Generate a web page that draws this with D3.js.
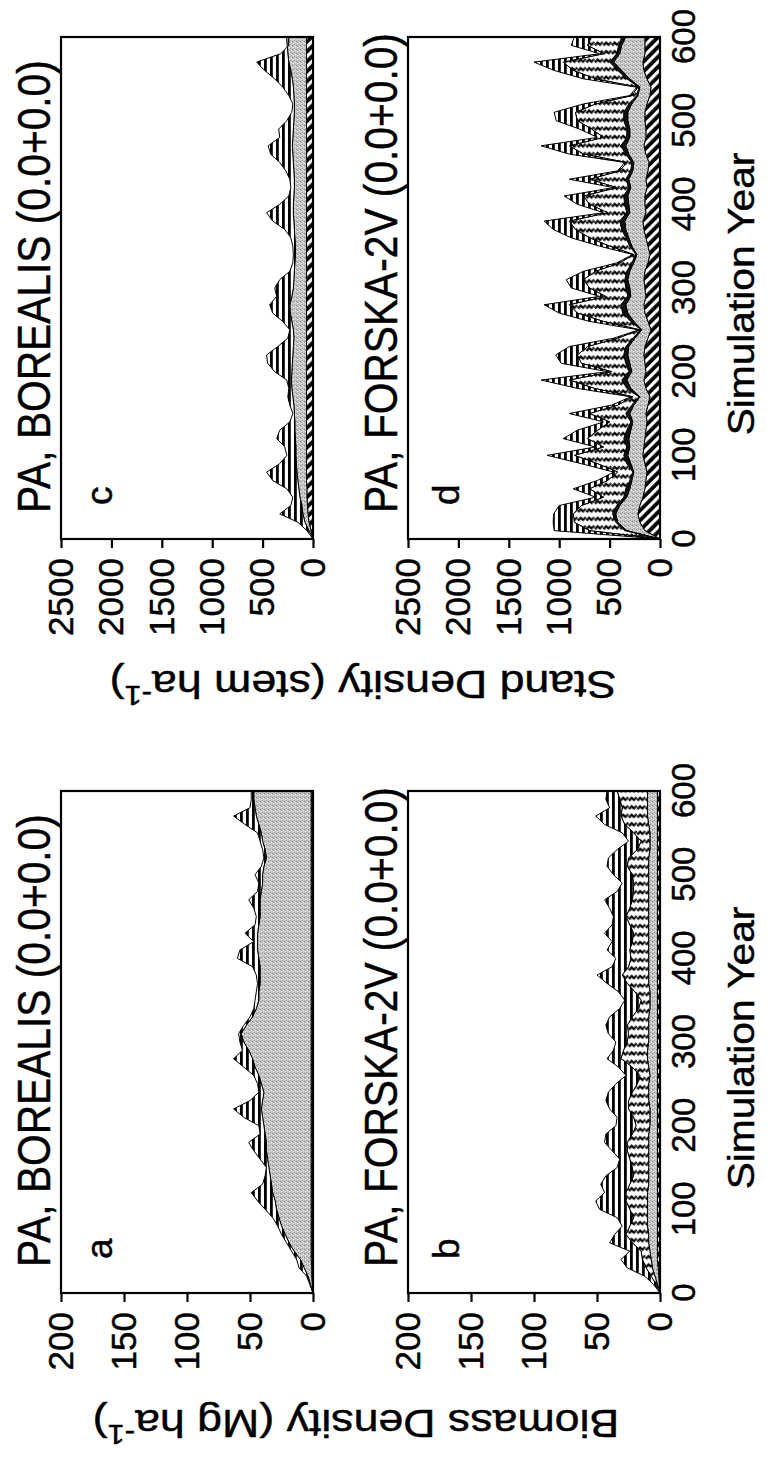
<!DOCTYPE html>
<html><head><meta charset="utf-8">
<script src="https://cdn.jsdelivr.net/npm/d3@7"></script>
<style>
body{margin:0;background:#fff}
svg{display:block}
text{font-family:"Liberation Sans",Arial,Helvetica,sans-serif;fill:#000;stroke:#000;stroke-width:0.45px}
</style>
</head><body>
<svg id="chart" width="774" height="1470"></svg>
<script>
// ---------------- data ----------------
const years = [0,10,20,30,40,50,60,70,80,90,100,110,120,130,140,150,160,170,180,190,200,210,220,230,240,250,260,270,280,290,300,310,320,330,340,350,360,370,380,390,400,410,420,430,440,450,460,470,480,490,500,510,520,530,540,550,560,570,580,590,600];
const yearTicks = [0,100,200,300,400,500,600];
const biomassTicks = [0,50,100,150,200];
const densityTicks = [0,500,1000,1500,2000,2500];

// Panel a : PA, BOREALIS biomass (cumulative layer tops, Mg/ha)
const aHatch = [0,0.5,1,1,1.5,1.5,1.5,1.5,1.5,1.5,1.5,1.5,1.5,1.5,1.5,1.5,1.5,1.5,1.5,1.5,1.5,1.5,1.5,1.5,1.5,1.5,1.5,1.5,1.5,1.5,1.5,1.5,1.5,1.5,1.5,1.5,1.5,1.5,1.5,1.5,1.5,1.5,1.5,1.5,1.5,1.5,1.5,1.5,1.5,1.5,1.5,1.5,1.5,1.5,1.5,1.5,1.5,1.5,1.5,1.5,1.5];
const aGrey  = [0,2,4,7,10,15,19,22,25,27,29,30,32,33,34,35,36,37,37,38,39,40,41,40,39,41,43,46,48,51,55,57,53,48,45,43,43,42,42,42,43,44,44,44,43,42,42,42,41,40,40,39,37,38,40,41,43,45,46,47,47];
const aTotal = [0,2.5,5,11,13,17,21,25,28,32,38,44,49,40,38,37,42,47,51,42,43,55,63,50,43,44,47,55,63,56,58,59,55,50,47,46,45,44,45,48,60,58,47,54,46,45,47,51,44,43,46,41,39,40,42,44,54,63,50,49,49];

// Panel b : PA, FORSKA-2V biomass
const bHatch  = [0,0.5,1,1.5,2,2,2,2,2,2,2,2,2,2,2,2,2,2,2,2,2,2,2,2,2,2,2,2,2,2,2,2,2,2,2,2,2,2,2,2,2,2,2,2,2,2,2,2,2,2,2,2,2,2,2,2,2,2,2,2,2];
const bGrey   = [0,2,4,6,7,8,9,9,10,10,10,10,10,9,9,9,9,9,9,9,8,8,8,9,9,9,8,9,10,10,9,9,9,9,8,8,8,9,9,9,9,9,9,9,9,9,9,9,9,9,9,9,9,8,8,8,9,10,10,10,10];
const bDotted = [0,3,7,11,14,15,22,27,24,21,24,27,27,24,21,22,24,26,26,22,19,21,25,25,22,18,16,22,31,29,26,25,26,22,17,15,20,26,30,25,23,24,22,21,24,27,24,22,21,21,22,26,25,18,15,21,28,31,30,32,34];
const bTotal  = [0,5,12,26,31,24,40,36,30,34,48,51,44,47,43,34,32,38,44,43,35,34,40,43,41,35,27,33,42,37,35,41,43,40,32,28,33,42,50,38,35,42,38,44,38,37,40,44,34,30,37,42,41,34,25,30,44,51,40,43,42];

// Panel c : PA, BOREALIS stand density (stem/ha)
const cHatch = [0,20,40,50,55,60,60,65,65,65,65,65,65,65,65,65,65,65,65,65,65,65,65,65,65,65,65,65,65,65,65,65,65,65,65,65,65,65,65,65,65,65,65,65,65,65,65,65,65,65,65,65,65,65,65,65,65,65,65,65,65];
const cGrey  = [0,40,80,100,110,130,140,150,160,165,170,170,175,180,180,185,190,200,210,215,210,205,200,195,190,195,210,225,230,210,195,190,185,180,175,175,180,185,190,195,195,190,185,185,190,195,200,205,200,195,190,185,185,190,195,205,220,240,250,255,260];
const cTotal = [0,60,150,330,220,200,260,400,460,330,260,280,360,330,230,200,230,250,240,260,380,450,460,350,250,230,300,400,430,360,380,330,230,200,195,200,220,280,400,460,330,240,220,230,270,330,420,445,330,340,260,210,200,240,300,380,480,560,320,240,240];

// Panel d : PA, FORSKA-2V stand density
const dHatch  = [0,150,200,220,200,170,150,140,130,150,170,160,150,140,130,140,120,100,140,160,140,150,160,150,120,90,120,150,160,140,150,160,150,120,100,120,140,160,170,140,150,150,130,140,120,110,140,160,140,140,150,150,130,100,90,130,160,170,150,150,150];
const dGrey   = [0,330,420,440,400,330,300,280,260,290,320,300,310,290,270,300,260,200,290,330,280,300,320,310,250,180,260,320,340,290,300,320,300,260,230,280,310,340,350,300,310,320,290,310,270,260,310,340,300,300,320,320,280,220,200,300,380,460,400,380,340];
const dBlack  = [0,350,440,470,430,360,340,300,270,330,360,330,360,330,290,340,280,210,330,380,310,340,360,340,270,190,290,370,390,320,340,350,330,280,240,300,340,380,400,330,350,360,310,340,290,280,340,390,330,330,360,360,310,230,210,330,420,500,430,410,380];
const dDotted = [0,700,850,860,780,560,700,520,420,620,850,560,720,620,500,700,420,270,650,900,480,780,820,720,420,200,560,820,900,540,700,760,640,400,260,500,700,840,900,520,700,760,430,700,400,330,760,900,560,680,820,840,640,280,220,640,860,960,560,720,680];
const dTotal  = [0,1050,1060,1055,1000,640,860,620,460,780,1120,640,960,820,560,900,480,290,820,1180,520,980,1035,900,460,210,700,1000,1150,600,880,930,760,430,270,600,880,1060,1150,560,820,950,460,900,420,350,900,1180,620,800,1030,1050,760,300,230,760,1050,1250,600,880,850];

const titleBorealis = "PA, BOREALIS (0.0+0.0)";
const titleForska = "PA, FORSKA-2V (0.0+0.0)";

// ---------------- drawing ----------------
const svg = d3.select("#chart");
const defs = svg.append("defs");

// patterns (defined in the un-rotated figure frame)
const ph = defs.append("pattern").attr("id","hatch").attr("patternUnits","userSpaceOnUse")
  .attr("width",7).attr("height",7).attr("patternTransform","rotate(-45)");
ph.append("rect").attr("width",7).attr("height",7).attr("fill","#fff");
ph.append("rect").attr("width",3.8).attr("height",7).attr("fill","#000");

const ps = defs.append("pattern").attr("id","stripes").attr("patternUnits","userSpaceOnUse")
  .attr("width",6).attr("height",6);
ps.append("rect").attr("width",6).attr("height",6).attr("fill","#fff");
ps.append("rect").attr("width",6).attr("height",2.8).attr("fill","#000");

const pg = defs.append("pattern").attr("id","grey").attr("patternUnits","userSpaceOnUse")
  .attr("width",4).attr("height",4);
pg.append("rect").attr("width",4).attr("height",4).attr("fill","#c6c6c6");
[[0,0,"#858585"],[2,1,"#f0f0f0"],[1,2,"#9e9e9e"],[3,3,"#e6e6e6"],[3,1,"#adadad"]].forEach(p=>{
  pg.append("rect").attr("x",p[0]).attr("y",p[1]).attr("width",1).attr("height",1).attr("fill",p[2]);
});

// zig-zag of short dashes (staircases)
const pz = defs.append("pattern").attr("id","zigzag").attr("patternUnits","userSpaceOnUse")
  .attr("width",12).attr("height",12).attr("patternTransform","rotate(45)");
pz.append("rect").attr("width",12).attr("height",12).attr("fill","#fff");
pz.append("path").attr("d","M0,1.3 H4 V4.5 H8 M6,7.3 H10 V10.5 H12 M0,10.5 H2")
  .attr("fill","none").attr("stroke","#000").attr("stroke-width",2.2);

const root = svg.append("g").attr("transform","translate(0,1470) rotate(-90)");

const panels = [
  {id:"a", letter:"a", title:titleBorealis, x0:177, x1:679, yTop:61,  yBot:313, max:200,  ticks:biomassTicks, yearAxis:false,
   layers:[[aHatch,"url(#hatch)"],[aGrey,"url(#grey)"],[aTotal,"url(#stripes)"]]},
  {id:"b", letter:"b", title:titleForska,   x0:177, x1:679, yTop:408, yBot:660, max:200,  ticks:biomassTicks, yearAxis:true,
   layers:[[bHatch,"url(#hatch)"],[bGrey,"url(#grey)"],[bDotted,"url(#zigzag)"],[bTotal,"url(#stripes)"]]},
  {id:"c", letter:"c", title:titleBorealis, x0:931, x1:1433, yTop:61,  yBot:313, max:2500, ticks:densityTicks, yearAxis:false,
   layers:[[cHatch,"url(#hatch)"],[cGrey,"url(#grey)"],[cTotal,"url(#stripes)"]]},
  {id:"d", letter:"d", title:titleForska,   x0:931, x1:1433, yTop:408, yBot:660, max:2500, ticks:densityTicks, yearAxis:true,
   layers:[[dHatch,"url(#hatch)"],[dGrey,"url(#grey)"],[dBlack,"#111"],[dDotted,"url(#zigzag)"],[dTotal,"url(#stripes)"]]}
];

panels.forEach(p => {
  const x = d3.scaleLinear().domain([0,600]).range([p.x0,p.x1]);
  const y = d3.scaleLinear().domain([0,p.max]).range([p.yBot,p.yTop]);
  const g = root.append("g");
  defs.append("clipPath").attr("id","clip-"+p.id).append("rect")
    .attr("x",p.x0).attr("y",p.yTop).attr("width",p.x1-p.x0).attr("height",p.yBot-p.yTop);
  const plot = g.append("g").attr("clip-path","url(#clip-"+p.id+")");

  let prev = years.map(()=>0);
  p.layers.forEach(([tops,fill]) => {
    const rows = years.map((yr,i)=>({yr, lo:prev[i], hi:tops[i]}));
    const area = d3.area().x(d=>x(d.yr)).y0(d=>y(d.lo)).y1(d=>y(d.hi));
    plot.append("path").datum(rows).attr("d",area)
      .attr("fill",fill).attr("stroke","#000").attr("stroke-width",1).attr("stroke-linejoin","miter");
    prev = tops;
  });

  // frame
  g.append("rect").attr("x",p.x0).attr("y",p.yTop).attr("width",p.x1-p.x0).attr("height",p.yBot-p.yTop)
    .attr("fill","none").attr("stroke","#000").attr("stroke-width",2.2);

  // value axis
  const ax = g.append("g").attr("transform",`translate(${p.x0},0)`)
    .call(d3.axisLeft(y).tickValues(p.ticks).tickSize(9).tickPadding(10).tickFormat(d3.format("d")));
  ax.select(".domain").remove();
  ax.selectAll(".tick line").attr("stroke","#000").attr("stroke-width",2.2);
  ax.selectAll(".tick text").attr("font-size",35).attr("font-family",null).attr("fill","#000");

  // year axis
  if (p.yearAxis) {
    const bx = g.append("g").attr("transform",`translate(0,${p.yBot})`)
      .call(d3.axisBottom(x).tickValues(yearTicks).tickSize(0).tickPadding(12).tickFormat(d3.format("d")));
    bx.select(".domain").remove();
    bx.selectAll(".tick text").attr("font-size",33).attr("font-family",null).attr("fill","#000");
    g.append("text").attr("transform",`translate(${(p.x0+p.x1)/2 - 6},754) scale(1.1,1)`).attr("text-anchor","middle")
      .attr("font-size",37).text("Simulation Year");
  }

  // title
  g.append("text").attr("transform",`translate(${p.x0+26},${p.yTop-11}) scale(0.885,1)`)
    .attr("font-size",46).text(p.title);
  // panel letter
  g.append("text").attr("x",p.x0+34).attr("y",p.yTop+51).attr("font-size",37).text(p.letter);
});

// y-axis titles (rotated, stretched along their reading direction)
function axisTitle(cx, cy, main, unit){
  const t = root.append("text").attr("transform",`translate(${cx},${cy}) rotate(-90) scale(1.146,1)`)
    .attr("text-anchor","middle").attr("font-size",39);
  t.append("tspan").text(main + " (" + unit + " ha");
  t.append("tspan").attr("dy",-15).attr("font-size",27).text("-1");
  t.append("tspan").attr("dy",15).text(")");
}
axisTitle(60, 356, "Biomass Density", "Mg");
axisTitle(799, 363, "Stand Density", "stem");
</script>
</body></html>
